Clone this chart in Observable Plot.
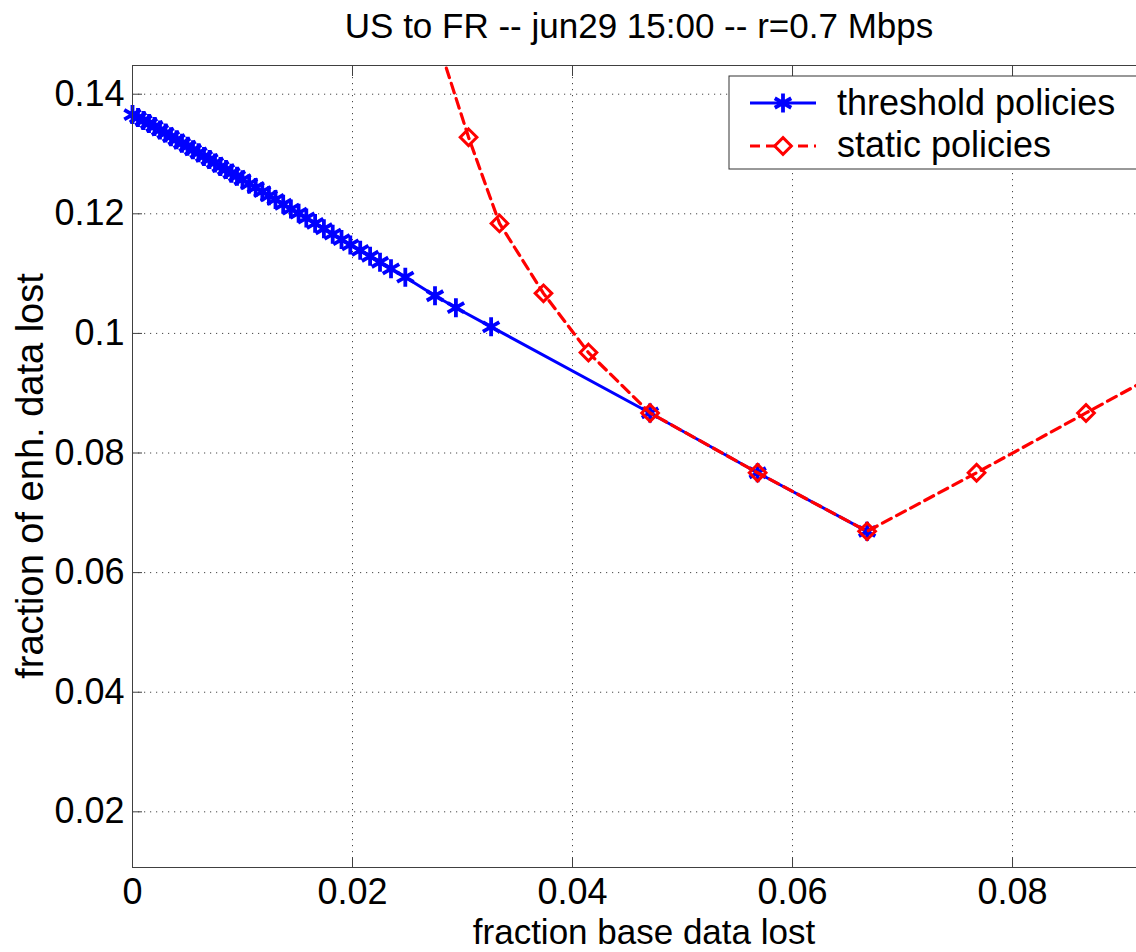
<!DOCTYPE html>
<html>
<head>
<meta charset="utf-8">
<script src="https://cdn.jsdelivr.net/npm/d3@7"></script>
<script src="https://cdn.jsdelivr.net/npm/@observablehq/plot@0.6"></script>
<style>
html, body { margin: 0; padding: 0; background: #fff; }
#chart { position: relative; width: 1136px; height: 952px; overflow: hidden; }
</style>
</head>
<body>
<div id="chart"></div>
<script>
const titleText = "US to FR -- jun29 15:00 -- r=0.7 Mbps";
const xLabel = "fraction base data lost";
const yLabel = "fraction of enh. data lost";
const seriesNames = ["threshold policies", "static policies"];
const xTicks = [0, 0.02, 0.04, 0.06, 0.08];
const yTicks = [0.02, 0.04, 0.06, 0.08, 0.1, 0.12, 0.14];
const xDomain = [0, 0.09127];
const yDomain = [0.01069, 0.1448];

const thresholdX = [0, 0.0005, 0.001, 0.0015, 0.002, 0.0025, 0.003, 0.0035, 0.004, 0.0045,
  0.005, 0.0055, 0.006, 0.0065, 0.007, 0.0075, 0.008, 0.0085, 0.009, 0.0095,
  0.010, 0.0106, 0.0112, 0.0118, 0.0124, 0.013, 0.0137, 0.0144, 0.0151, 0.0158,
  0.0166, 0.0174, 0.0182, 0.019, 0.0198, 0.0207, 0.0216, 0.0225, 0.0235, 0.0248,
  0.0275, 0.0294, 0.0326, 0.04705, 0.05683, 0.06678];
const thresholdY = [0.1366, 0.1361, 0.1356, 0.1351, 0.1346, 0.1340, 0.1335, 0.1329, 0.1324, 0.1318,
  0.1313, 0.1307, 0.1302, 0.1296, 0.1291, 0.1285, 0.1279, 0.1274, 0.1268, 0.1263,
  0.1257, 0.1250, 0.1244, 0.1237, 0.1230, 0.1224, 0.1216, 0.1208, 0.1201, 0.1193,
  0.1184, 0.1175, 0.1166, 0.1157, 0.1148, 0.1139, 0.1129, 0.1119, 0.1108, 0.1094,
  0.1063, 0.1043, 0.1011, 0.0867, 0.0767, 0.0669];

const staticX = [0.0272, 0.03055, 0.03336, 0.03736, 0.04145, 0.04705, 0.05683, 0.06678, 0.07673, 0.08668, 0.09663];
const staticY = [0.1520, 0.1328, 0.1184, 0.1067, 0.0968, 0.0867, 0.0767, 0.0669, 0.0767, 0.0867, 0.0967];

const threshold = thresholdX.map((x, i) => ({x, y: thresholdY[i]}));
const statics = staticX.map((x, i) => ({x, y: staticY[i]}));

const font = "'Liberation Sans', Arial, Helvetica, sans-serif";
const frameColor = "#404040";
const fmt = d => String(d);

const chart = Plot.plot({
  width: 1136,
  height: 952,
  marginLeft: 132,
  marginRight: 0,
  marginTop: 65,
  marginBottom: 85,
  x: {domain: xDomain, label: null},
  y: {domain: yDomain, label: null},
  style: {fontFamily: font, background: "white", color: "black"},
  marks: [
    Plot.gridX(xTicks, {stroke: "#333", strokeOpacity: 0.9, strokeDasharray: "1.2,4.8", strokeWidth: 1}),
    Plot.gridY(yTicks, {stroke: "#333", strokeOpacity: 0.9, strokeDasharray: "1.2,4.8", strokeWidth: 1}),
    Plot.line(threshold, {x: "x", y: "y", stroke: "#0000ff", strokeWidth: 3, clip: true}),
    Plot.dot(threshold, {x: "x", y: "y", symbol: "asterisk", r: 9, stroke: "#0000ff", strokeWidth: 3.8}),
    Plot.line(statics, {x: "x", y: "y", stroke: "#ff0000", strokeWidth: 3.2, strokeDasharray: "10,6", clip: true}),
    Plot.dot(statics, {x: "x", y: "y", symbol: "diamond2", r: 7.5, stroke: "#ff0000", strokeWidth: 3, fill: "none", clip: true}),
    Plot.ruleX([xDomain[0]], {stroke: frameColor, strokeWidth: 1}),
    Plot.ruleY(yDomain, {stroke: frameColor, strokeWidth: 1}),
    Plot.axisX(xTicks, {anchor: "bottom", tickSize: -10, fill: "none", stroke: frameColor, label: null}),
    Plot.axisX(xTicks, {anchor: "top", tickSize: -10, fill: "none", stroke: frameColor, label: null}),
    Plot.axisY(yTicks, {anchor: "left", tickSize: -10, fill: "none", stroke: frameColor, label: null}),
    Plot.axisX(xTicks, {anchor: "bottom", tickSize: 0, tickPadding: 11, fontSize: 36, tickFormat: fmt, fill: "black", label: null}),
    Plot.axisY(yTicks, {anchor: "left", tickSize: 0, tickPadding: 8, fontSize: 36, tickFormat: fmt, fill: "black", label: null})
  ]
});

const svg = d3.select(chart);
svg.append("text")
  .attr("x", 639).attr("y", 38)
  .attr("text-anchor", "middle")
  .attr("font-family", font).attr("font-size", 35).attr("fill", "black")
  .text(titleText);
svg.append("text")
  .attr("x", 644).attr("y", 944)
  .attr("text-anchor", "middle")
  .attr("font-family", font).attr("font-size", 35).attr("fill", "black")
  .text(xLabel);
svg.append("text")
  .attr("transform", "translate(43,476) rotate(-90)")
  .attr("text-anchor", "middle")
  .attr("font-family", font).attr("font-size", 38).attr("fill", "black")
  .text(yLabel);

// legend
const lg = svg.append("g").attr("transform", "translate(729,76)");
lg.append("rect").attr("width", 440).attr("height", 93).attr("fill", "white").attr("stroke", "#333").attr("stroke-width", 1);
const rows = [
  {name: seriesNames[0], color: "#0000ff", dash: null, sym: d3.symbolAsterisk, r: 9, sw: 3.8, cy: 27, base: 39},
  {name: seriesNames[1], color: "#ff0000", dash: "10,6", sym: d3.symbolDiamond2, r: 7.5, sw: 3, cy: 70, base: 81}
];
for (const r of rows) {
  lg.append("line").attr("x1", 21).attr("x2", 87).attr("y1", r.cy).attr("y2", r.cy)
    .attr("stroke", r.color).attr("stroke-width", 3).attr("stroke-dasharray", r.dash);
  lg.append("path").attr("d", d3.symbol(r.sym, Math.PI * r.r * r.r)())
    .attr("transform", `translate(54,${r.cy})`)
    .attr("fill", r.dash ? "white" : "none").attr("stroke", r.color).attr("stroke-width", r.sw);
  lg.append("text").attr("x", 108).attr("y", r.base)
    .attr("text-anchor", "start")
    .attr("font-family", font).attr("font-size", 36).attr("fill", "black")
    .text(r.name);
}

document.getElementById("chart").appendChild(chart);
</script>
</body>
</html>
